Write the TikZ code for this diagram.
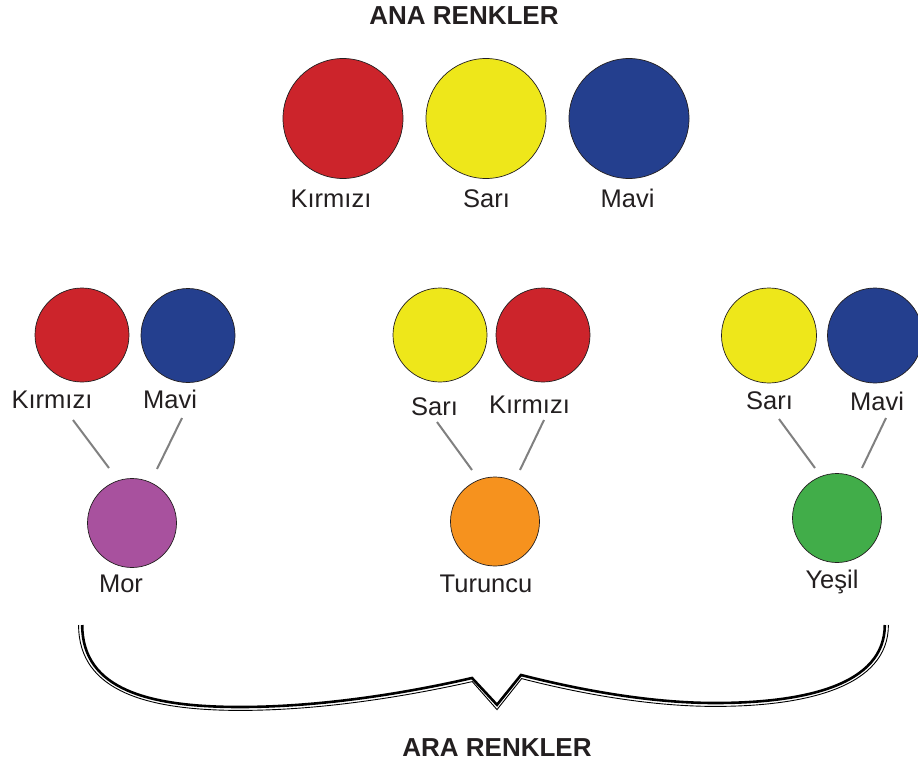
\documentclass[tikz,border=0pt]{standalone}
\usepackage{fontspec}
\setmainfont{Liberation Sans}
\definecolor{cred}{HTML}{CC242B}
\definecolor{cyel}{HTML}{EEE71A}
\definecolor{cblu}{HTML}{243F8E}
\definecolor{cpur}{HTML}{A8519E}
\definecolor{cora}{HTML}{F6921E}
\definecolor{cgrn}{HTML}{41AD49}
\definecolor{ctxt}{HTML}{231F20}
\begin{document}
\begin{tikzpicture}[x=1pt,y=-1pt,
  dot/.style={circle, draw=ctxt, line width=0.7pt, inner sep=0pt, minimum size=#1},
  lbl/.style={anchor=base, font=\fontsize{25.5}{30}\selectfont, text=ctxt, inner sep=0pt},
  ttl/.style={anchor=base, font=\fontsize{26}{30}\selectfont\bfseries, text=ctxt, inner sep=0pt},
  link/.style={draw=black!50, line width=2pt},
  bracethick/.style={draw=black, line width=2.6pt, line join=miter},
  bracethin/.style={draw=black, line width=0.9pt, line join=miter}]
\useasboundingbox (0,0) rectangle (918,765);

% title
\node[ttl] (t1) at (464,25) {ANA RENKLER};
\node[ttl] (t2) at (497,756) {ARA RENKLER};

% primary colours
\node[dot=120pt, fill=cred] (pr) at (343,118.5) {};
\node[dot=120pt, fill=cyel] (py) at (486,118.5) {};
\node[dot=120pt, fill=cblu] (pb) at (629,118.5) {};
\node[lbl] (lpr) at (331,207) {Kırmızı};
\node[lbl] (lpy) at (486.5,207) {Sarı};
\node[lbl] (lpb) at (627.5,207) {Mavi};

% group 1: Mor
\node[dot=94pt, fill=cred] (a1) at (82,335) {};
\node[dot=94pt, fill=cblu] (a2) at (188,335.5) {};
\node[lbl] (la1) at (52,408) {Kırmızı};
\node[lbl] (la2) at (170,408) {Mavi};
\node[dot=89pt, fill=cpur] (ra) at (132,523) {};
\node[lbl] (lra) at (121,592) {Mor};
\coordinate (ca1) at (73,420);
\coordinate (ca1e) at (109,468);
\coordinate (ca2) at (182,418);
\coordinate (ca2e) at (157,469);
\draw[link] (ca1) -- (ca1e);
\draw[link] (ca2) -- (ca2e);

% group 2: Turuncu
\node[dot=94pt, fill=cyel] (b1) at (440,335) {};
\node[dot=94pt, fill=cred] (b2) at (543,335) {};
\node[lbl] (lb1) at (434.5,415) {Sarı};
\node[lbl] (lb2) at (529.5,413) {Kırmızı};
\node[dot=89pt, fill=cora] (rb) at (495,521.5) {};
\node[lbl] (lrb) at (486,592) {Turuncu};
\coordinate (cb1) at (437,422);
\coordinate (cb1e) at (472,470);
\coordinate (cb2) at (544,420);
\coordinate (cb2e) at (520,470);
\draw[link] (cb1) -- (cb1e);
\draw[link] (cb2) -- (cb2e);

% group 3: Yesil
\node[dot=95pt, fill=cyel] (c1) at (769,335.5) {};
\node[dot=95pt, fill=cblu] (c2) at (875,335.5) {};
\node[lbl] (lc1) at (769.5,409) {Sarı};
\node[lbl] (lc2) at (877,410) {Mavi};
\node[dot=89pt, fill=cgrn] (rc) at (837,518) {};
\node[lbl] (lrc) at (832,588) {Yeşil};
\coordinate (cc1) at (779,419);
\coordinate (cc1e) at (815,468);
\coordinate (cc2) at (886,418);
\coordinate (cc2e) at (862,468);
\draw[link] (cc1) -- (cc1e);
\draw[link] (cc2) -- (cc2e);

% brace (double line: thin outer, thick inner)
\draw[bracethin] (78.6,625) .. controls (78.6,692.5) and (150,710.4) .. (240,710.4)
  .. controls (330,710.4) and (420,693.3) .. (472.3,681.6) -- (497,709.6) -- (521.6,678.6)
  .. controls (580,693.6) and (650,706.4) .. (715,706.4)
  .. controls (806,706.4) and (888.4,687) .. (888.4,625);
\draw[bracethick] (82.2,625) .. controls (82.2,690) and (150,707) .. (240,707)
  .. controls (330,707) and (420,690) .. (472,678) -- (497,704.8) -- (521,675)
  .. controls (580,690) and (650,703) .. (715,703)
  .. controls (805,703) and (884.8,685) .. (884.8,625);
\end{tikzpicture}
\end{document}
